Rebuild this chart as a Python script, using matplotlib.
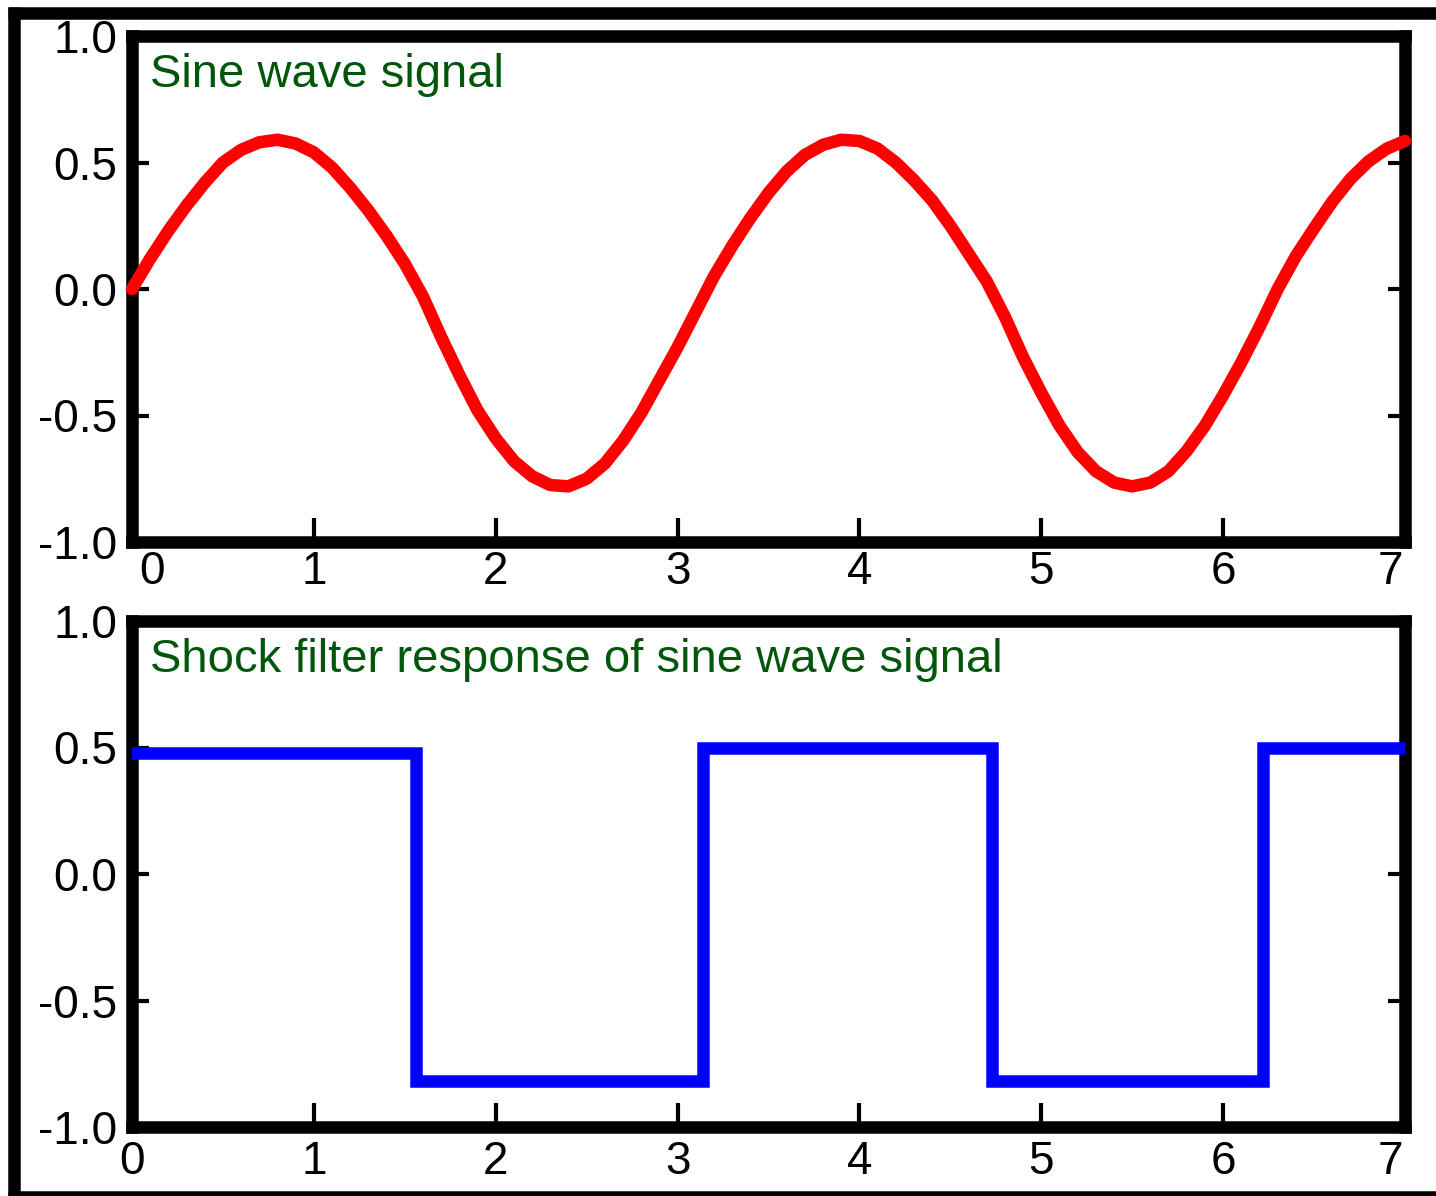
import matplotlib.pyplot as plt
from matplotlib.lines import Line2D
from matplotlib.transforms import ScaledTranslation

plt.rcParams['font.family'] = ['Liberation Sans', 'DejaVu Sans']

# sine wave signal
sine_x = [0.0, 0.1, 0.2, 0.3, 0.4, 0.5, 0.6, 0.7, 0.8, 0.9,
          1.0, 1.1, 1.2, 1.3, 1.4, 1.5, 1.6, 1.7, 1.8, 1.9,
          2.0, 2.1, 2.2, 2.3, 2.4, 2.5, 2.6, 2.7, 2.8, 2.9,
          3.0, 3.1, 3.2, 3.3, 3.4, 3.5, 3.6, 3.7, 3.8, 3.9,
          4.0, 4.1, 4.2, 4.3, 4.4, 4.5, 4.6, 4.7, 4.8, 4.9,
          5.0, 5.1, 5.2, 5.3, 5.4, 5.5, 5.6, 5.7, 5.8, 5.9,
          6.0, 6.1, 6.2, 6.3, 6.4, 6.5, 6.6, 6.7, 6.8, 6.9, 7.0]
sine_y = [0.0, 0.12, 0.23, 0.33, 0.42, 0.50, 0.55, 0.58, 0.59, 0.575,
          0.54, 0.48, 0.40, 0.31, 0.21, 0.10, -0.03, -0.19, -0.34, -0.48,
          -0.59, -0.68, -0.74, -0.775, -0.78, -0.75, -0.69, -0.60, -0.49, -0.36,
          -0.23, -0.09, 0.05, 0.17, 0.28, 0.38, 0.465, 0.53, 0.57, 0.59,
          0.585, 0.555, 0.50, 0.43, 0.35, 0.25, 0.14, 0.03, -0.11, -0.27,
          -0.41, -0.54, -0.645, -0.72, -0.765, -0.78, -0.765, -0.72, -0.64, -0.54,
          -0.42, -0.29, -0.15, 0.0, 0.13, 0.24, 0.345, 0.435, 0.505, 0.555, 0.585]

# shock filter response (step edges and levels)
shock_x = [0.0, 1.56, 3.14, 4.73, 6.22, 7.0]
shock_y = [0.48, -0.82, 0.5, -0.82, 0.5, 0.5]

xticks = [0, 1, 2, 3, 4, 5, 6, 7]
yticks = [-1.0, -0.5, 0.0, 0.5, 1.0]
ytick_labels = ['-1.0', '-0.5', '0.0', '0.5', '1.0']
titles = ['Sine wave signal', 'Shock filter response of sine wave signal']

W, H = 1436, 1196
fig = plt.figure(figsize=(W / 100, H / 100), dpi=100)

ax1 = fig.add_axes([132 / W, 1 - 542 / H, 1273 / W, 506 / H])
ax2 = fig.add_axes([132 / W, 1 - 1127 / H, 1273 / W, 506 / H])

ax1.plot(sine_x, sine_y, color='#ff0000', lw=9, solid_capstyle='round', solid_joinstyle='round',
         clip_on=False, zorder=3)
ax2.step(shock_x, shock_y, where='post', color='#0000ff', lw=9, solid_joinstyle='miter', zorder=3)

for ax, title, xpad in [(ax1, titles[0], 6), (ax2, titles[1], 9)]:
    ax.set_xlim(0, 7)
    ax.set_ylim(-1, 1)
    ax.set_xticks(xticks)
    ax.set_xticklabels([str(t) for t in xticks])
    ax.set_yticks(yticks)
    ax.set_yticklabels(ytick_labels)
    for s in ax.spines.values():
        s.set_linewidth(9)
        s.set_color('black')
        s.set_capstyle('projecting')
    ax.tick_params(axis='x', direction='in', length=17, width=3, pad=xpad,
                   labelsize=33, bottom=True, top=False)
    ax.tick_params(axis='y', direction='in', length=12, width=3, pad=10.5,
                   labelsize=33, left=True, right=True, labelright=False)
    ax.text(0.014, 0.90, title, transform=ax.transAxes, fontsize=34,
            color='#00560a', va='baseline', ha='left')

# nudge the end labels like the original
lab = ax1.xaxis.get_major_ticks()[0].label1
lab.set_transform(lab.get_transform() + ScaledTranslation(0.20, 0, fig.dpi_scale_trans))
for ax in (ax1, ax2):
    lab = ax.xaxis.get_major_ticks()[-1].label1
    lab.set_transform(lab.get_transform() + ScaledTranslation(-0.15, 0, fig.dpi_scale_trans))

# outer frame (right edge is cut off in the original)
fw = 9
fig.add_artist(Line2D([13.5 / W, 13.5 / W], [0, 1 - 6.5 / H], transform=fig.transFigure,
                      color='black', lw=fw, solid_capstyle='butt'))
fig.add_artist(Line2D([7.5 / W, 1], [1 - 12.5 / H, 1 - 12.5 / H], transform=fig.transFigure,
                      color='black', lw=fw, solid_capstyle='butt'))
fig.add_artist(Line2D([7.5 / W, 1], [1 - 1197 / H, 1 - 1197 / H], transform=fig.transFigure,
                      color='black', lw=fw, solid_capstyle='butt'))

fig.savefig('out.png', dpi=100)
